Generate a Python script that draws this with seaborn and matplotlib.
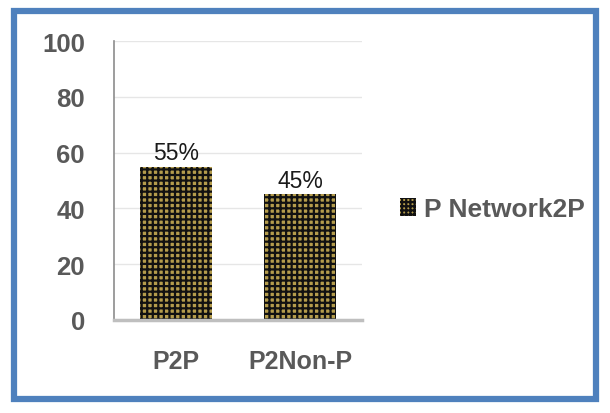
import matplotlib
matplotlib.use("Agg")
import matplotlib.pyplot as plt
import matplotlib.patches as mpatches
import seaborn as sns
import pandas as pd

categories = ["P2P", "P2Non-P"]
values = [55, 45]
value_labels = ["55%", "45%"]
series_name = "P Network2P"
y_ticks = [0, 20, 40, 60, 80, 100]

sns.set_theme(style="white")
plt.rcParams["font.family"] = ["Liberation Sans", "DejaVu Sans"]
plt.rcParams["hatch.linewidth"] = 1.6
plt.rcParams["hatch.color"] = "#111111"

gold = "#b49c4c"
df = pd.DataFrame({"category": categories, "value": values})

fig = plt.figure(figsize=(6.10, 4.14), dpi=100)
ax = fig.add_axes([114 / 610, 1 - 321 / 414, (362 - 114) / 610, (321 - 42) / 414])

sns.barplot(data=df, x="category", y="value", ax=ax, color=gold,
            width=0.58, saturation=1)
for p in ax.patches:
    p.set_hatch("+++")
    p.set_edgecolor("#111111")
    p.set_linewidth(0)

ax.set_ylim(0, 100)
ax.set_yticks(y_ticks)
ax.set_yticklabels([str(t) for t in y_ticks], fontsize=18.5, fontweight="bold", color="#595959")
ax.set_xticks(range(len(categories)))
ax.set_xticklabels(categories, fontsize=18, fontweight="bold", color="#595959")
ax.tick_params(axis="y", length=0, pad=21)
ax.tick_params(axis="x", length=0, pad=21)
ax.set_xlabel("")
ax.set_ylabel("")
ax.yaxis.grid(True, color="#e6e6e6", linewidth=1)
ax.set_axisbelow(True)
for side in ["top", "right"]:
    ax.spines[side].set_visible(False)
ax.spines["left"].set_color("#8c8c8c")
ax.spines["left"].set_linewidth(1.2)
ax.spines["bottom"].set_color("#bfbfbf")
ax.spines["bottom"].set_linewidth(2.5)

for i, (v, lab) in enumerate(zip(values, value_labels)):
    ax.text(i, v + 0.8, lab, ha="center", va="bottom", fontsize=16.5, color="#1a1a1a")

handle = mpatches.Patch(facecolor=gold, hatch="++++", edgecolor="#111111", linewidth=0)
fig.legend([handle], [series_name], loc="center left", bbox_to_anchor=(400 / 610, 1 - 210 / 414),
           frameon=False, borderpad=0, borderaxespad=0,
           handlelength=0.6, handleheight=0.7, handletextpad=0.3,
           prop={"size": 19, "weight": "bold"}, labelcolor="#595959")

border = mpatches.Rectangle((14 / 610, 14 / 414), (596 - 14) / 610, (402 - 14) / 414,
                            transform=fig.transFigure, fill=False, edgecolor="#4f81bd",
                            linewidth=4.5)
fig.patches.append(border)

fig.savefig("out.png", dpi=100)
